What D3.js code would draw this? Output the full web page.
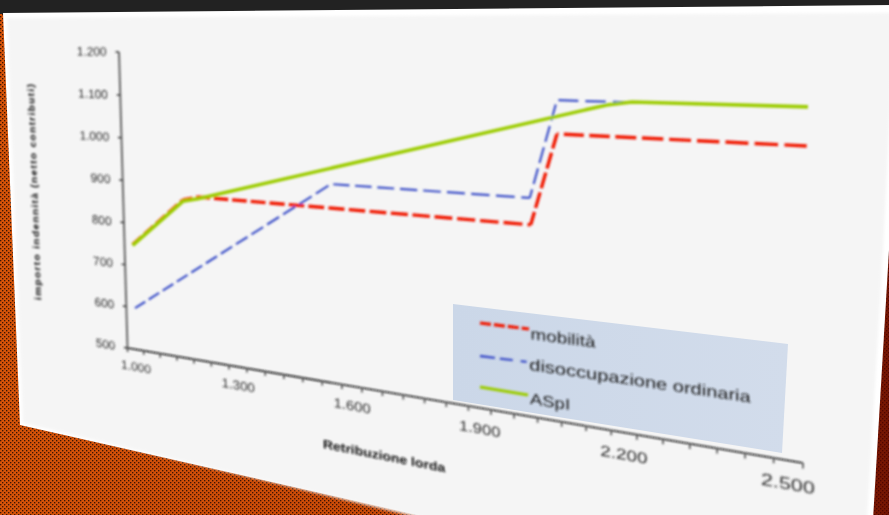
<!DOCTYPE html>
<html><head><meta charset="utf-8">
<style>html,body{margin:0;padding:0;background:#222;overflow:hidden}svg{display:block}text{font-family:"Liberation Sans",Arial,sans-serif}</style>
<script src="https://cdn.jsdelivr.net/npm/d3@7/dist/d3.min.js"></script>
</head><body><script>
// ---- data ----
const xLabelValues=[1000,1300,1600,1900,2200,2500];
const yTickValues=[500,600,700,800,900,1000,1100,1200];
const mobilitaX=[1000,1154,1198,2011,2065,2522];
const mobilitaY=[750,866,876,878,1056,1055];
const disoccX=[1002,1555,2009,2065,2205];
const disoccY=[599,928,930,1120,1120];
const aspiX=[1000,1154,1198,2164,2212,2523];
const aspiY=[748,863,872,1114,1121,1122];
const seriesNames=["mobilità","disoccupazione ordinaria","ASpI"];
const xTitle="Retribuzione lorda", yTitle="importo indennità (netto contributi)";

const W=889,H=515;
const C={p00:[127.5,348],p10:[803,463],p11:[810,61],p01:[119,52]};
const FW=504,FH=290; // local text units per unit of chart plane
const [x0,y0]=C.p00,[x1,y1]=C.p10,[x2,y2]=C.p11,[x3,y3]=C.p01;
const dx1=x1-x2,dx2=x3-x2,sx=x0-x1+x2-x3,dy1=y1-y2,dy2=y3-y2,sy=y0-y1+y2-y3;
const det=dx1*dy2-dx2*dy1;
const g=(sx*dy2-dx2*sy)/det,h=(dx1*sy-sx*dy1)/det;
const a=x1-x0+g*x1,b=x3-x0+h*x3,c=x0,d=y1-y0+g*y1,e=y3-y0+h*y3,f=y0;
const project=(u,v)=>{const w=g*u+h*v+1;return [(a*u+b*v+c)/w,(d*u+e*v+f)/w];};
const unproject=(x,y)=>{const A=a-g*x,B=b-h*x,D=d-g*y,E=e-h*y,R1=x-c,R2=y-f,dt=A*E-B*D;return [(R1*E-B*R2)/dt,(A*R2-D*R1)/dt];};
const localMatrix=(u,v)=>{const w=g*u+h*v+1,[x,y]=project(u,v);
  return `matrix(${(a-g*x)/w/FW} ${(d-g*y)/w/FW} ${-(b-h*x)/w/FH} ${-(e-h*y)/w/FH} ${x} ${y})`;};

const xs=d3.scaleLinear().domain([975,2525]).range([0,1]);
const ys=d3.scaleLinear().domain([500,1200]).range([0,1]);
const fmt=d3.formatLocale({decimal:",",thousands:".",grouping:[3],currency:["",""]}).format(",d");
const P=(xv,yv)=>project(xs(xv),ys(yv));
const line=d3.line().x(q=>q[0]).y(q=>q[1]);

// dashes are measured on the chart plane so they lengthen with the perspective
function dashed(X,Y,pattern){
  let out="",idx=0,left=pattern[0],on=true;
  for(let i=0;i<X.length-1;i++){
    const u0=xs(X[i])*FW,v0=ys(Y[i])*FH,u1=xs(X[i+1])*FW,v1=ys(Y[i+1])*FH;
    const len=Math.hypot(u1-u0,v1-v0);let s=0;
    while(s<len){
      const step=Math.min(left,len-s);
      if(on){const A=project((u0+(u1-u0)*s/len)/FW,(v0+(v1-v0)*s/len)/FH),B=project((u0+(u1-u0)*(s+step)/len)/FW,(v0+(v1-v0)*(s+step)/len)/FH);
        out+=`M${A[0]},${A[1]}L${B[0]},${B[1]}`;}
      s+=step;left-=step;
      if(left<=1e-6){idx=(idx+1)%pattern.length;left=pattern[idx];on=!on;}
    }
  }
  return out;
}

const svg=d3.select("body").append("svg").attr("width",W).attr("height",H);
const defs=svg.append("defs");
const pat=defs.append("pattern").attr("id","weave").attr("width",4).attr("height",4).attr("patternUnits","userSpaceOnUse");
pat.append("rect").attr("width",4).attr("height",4).attr("fill","#d85408");
pat.append("rect").attr("x",0).attr("y",0).attr("width",1.35).attr("height",1.35).attr("fill","#3a1605");
pat.append("rect").attr("x",2).attr("y",2).attr("width",1.35).attr("height",1.35).attr("fill","#3a1605");
const lg=defs.append("linearGradient").attr("id","dark");
lg.append("stop").attr("offset",0).attr("stop-color","#600").attr("stop-opacity",0);
lg.append("stop").attr("offset",.55).attr("stop-color","#600").attr("stop-opacity",.15);
lg.append("stop").attr("offset",1).attr("stop-color","#500").attr("stop-opacity",.75);
const blur=(id,s)=>defs.append("filter").attr("id",id).attr("filterUnits","userSpaceOnUse").attr("x",0).attr("y",0).attr("width",W).attr("height",H).append("feGaussianBlur").attr("stdDeviation",s);
blur("b1",.85);blur("b2",1.5);blur("b0",.7);
const lb=defs.append("linearGradient").attr("id","legbg").attr("x1",0).attr("x2",1);
lb.append("stop").attr("offset",0).attr("stop-color","#cbd7e8");
lb.append("stop").attr("offset",1).attr("stop-color","#d2dceb");

// background
svg.append("rect").attr("width",W).attr("height",H).attr("fill","url(#weave)");
svg.append("rect").attr("width",W).attr("height",H).attr("fill","url(#dark)");
svg.append("rect").attr("width",W).attr("height",14).attr("fill","#222");
const page=[[3,13],[895,5],[889,250],[873,520],[418,515],[20,425]];
const inner=[[7,18],[895,13],[883,250],[867,520],[430,520],[23,423]];
svg.append("polygon").attr("points",page.join(" ")).attr("fill","#fff").attr("filter","url(#b0)");
svg.append("polygon").attr("points",inner.join(" ")).attr("fill","#f5f5f5").attr("filter","url(#b2)");

// legend box
const legendBox=[[453,304],[788,344],[782,453],[453,400]];
svg.append("polygon").attr("points",legendBox.join(" ")).attr("fill","url(#legbg)").attr("filter","url(#b0)");

const plot=svg.append("g").attr("filter","url(#b1)");

// axes
plot.append("path").attr("d",line([P(975,500),P(975,1200)])).attr("stroke","#666").attr("stroke-width",2).attr("fill","none");
plot.append("path").attr("d",line([P(975,500),P(2525,500)])).attr("stroke","#111").attr("stroke-width",1.6).attr("fill","none");
const tL=3.5/FW,tD=4/FH;
plot.selectAll(".yt").data(yTickValues).join("path").attr("d",t=>{const v=ys(t);return line([project(0,v),project(-tL,v)]);}).attr("stroke","#333").attr("stroke-width",1.5);
plot.selectAll(".xt").data(d3.range(975,2526,50)).join("path").attr("d",t=>{const u=xs(t);return line([project(u,0),project(u,-tD)]);}).attr("stroke","#555").attr("stroke-width",1.7);

function label(u,v,txt,o){
  const t=plot.append("text").attr("transform",localMatrix(u,v)).text(txt)
    .attr("font-size",o.size).attr("fill",o.fill||"#2e2e2e").attr("text-anchor",o.anchor||"middle").attr("dominant-baseline","central");
  if(o.bold)t.attr("font-weight","bold");
  return t;
}
yTickValues.forEach(t=>label(-12.5/FW,ys(t),fmt(t),{size:12,anchor:"end"}));
xLabelValues.forEach(t=>label(xs(t),-17.5/FH,fmt(t),{size:12}));

// titles
{const [u,v]=unproject(384,456);label(u,v,xTitle,{size:11,bold:true,fill:"#111"});}
{const [u,v]=unproject(34,192);
 label(u,v,yTitle,{size:10.5,bold:true,fill:"#000"}).attr("transform",localMatrix(u,v)+" rotate(-90)").attr("textLength",222).attr("lengthAdjust","spacing");}

// series
const zip=(X,Y)=>X.map((x,i)=>P(x,Y[i]));
plot.append("path").attr("d",dashed(mobilitaX,mobilitaY,[13,3.5])).attr("fill","none").attr("stroke","#f01800").attr("stroke-width",3.4);
plot.append("path").attr("d",dashed(disoccX,disoccY,[13,4.5])).attr("fill","none").attr("stroke","#3c50c8").attr("stroke-width",2.2);
plot.append("path").attr("d",line(zip(aspiX,aspiY))).attr("fill","none").attr("stroke","#9ccc00").attr("stroke-width",3.6).attr("stroke-linejoin","round");

// legend keys and labels
const legendKeys=[[[480,323],[529,329]],[[480,356],[527,362]],[[480,387],[528,395]]];
const legendCentres=[[563,338],[640,381],[550,402]];
const keyStyle=[["#f01800",3.2,"11 3"],["#3c50c8",2.3,"15 5 13 8 6"],["#9ccc00",3.2,null]];
legendKeys.forEach((k,i)=>{const s=plot.append("path").attr("d",line(k)).attr("fill","none").attr("stroke",keyStyle[i][0]).attr("stroke-width",keyStyle[i][1]);
  if(keyStyle[i][2])s.attr("stroke-dasharray",keyStyle[i][2]);});
seriesNames.forEach((n,i)=>{const [u,v]=unproject(...legendCentres[i]);label(u,v,n,{size:12.5,fill:"#1c1c1c"});});
</script></body></html>
